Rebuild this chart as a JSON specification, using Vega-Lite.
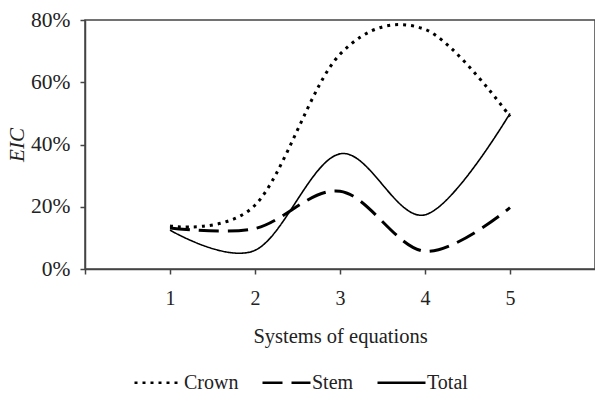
{
  "$schema": "https://vega.github.io/schema/vega-lite/v6.json",
  "autosize": {"type": "none"},
  "width": 510,
  "height": 249,
  "padding": {"left": 85, "top": 20, "right": 0, "bottom": 134},
  "background": "white",
  "config": {
    "view": {"stroke": "#444", "strokeWidth": 1.5},
    "font": "Liberation Serif, DejaVu Serif, serif",
    "axis": {"domainColor": "#444", "domainWidth": 1.5, "tickColor": "#444", "tickWidth": 1.5, "tickSize": 5, "grid": false, "labelFont": "Liberation Serif, DejaVu Serif, serif", "labelFontSize": 20, "labelColor": "#222", "titleFont": "Liberation Serif, DejaVu Serif, serif", "titleFontSize": 20.5, "titleColor": "#222", "titleFontWeight": "normal"},
    "legend": {"labelFont": "Liberation Serif, DejaVu Serif, serif"}
  },
  "data": {
    "values": [
      {"system": 1, "series": "Crown", "eic": 0.138},
      {"system": 2, "series": "Crown", "eic": 0.205},
      {"system": 3, "series": "Crown", "eic": 0.69},
      {"system": 4, "series": "Crown", "eic": 0.77},
      {"system": 5, "series": "Crown", "eic": 0.49},
      {"system": 1, "series": "Stem", "eic": 0.132},
      {"system": 2, "series": "Stem", "eic": 0.13},
      {"system": 3, "series": "Stem", "eic": 0.25},
      {"system": 4, "series": "Stem", "eic": 0.057},
      {"system": 5, "series": "Stem", "eic": 0.197},
      {"system": 1, "series": "Total", "eic": 0.125},
      {"system": 2, "series": "Total", "eic": 0.06},
      {"system": 3, "series": "Total", "eic": 0.37},
      {"system": 4, "series": "Total", "eic": 0.174},
      {"system": 5, "series": "Total", "eic": 0.5}
    ]
  },
  "encoding": {
    "x": {
      "field": "system", "type": "quantitative",
      "scale": {"domain": [0, 6], "nice": false, "zero": false},
      "axis": {"values": [0, 1, 2, 3, 4, 5], "labelExpr": "datum.value == 0 ? '' : datum.label", "labelPadding": 14, "title": "Systems of equations", "titlePadding": 18}
    },
    "y": {
      "field": "eic", "type": "quantitative",
      "scale": {"domain": [0, 0.8], "nice": false},
      "axis": {"values": [0, 0.2, 0.4, 0.6, 0.8], "format": ".0%", "labelPadding": 10, "labelFontSize": 21.5, "title": "EIC", "titleFontStyle": "italic", "titleFontSize": 21, "titlePadding": 3}
    },
    "strokeDash": {
      "field": "series", "type": "nominal",
      "scale": {"domain": ["Crown", "Stem", "Total"], "range": [[3, 5], [20, 9], [1, 0]]},
      "legend": {
        "title": null, "orient": "none", "direction": "horizontal", "columns": 3,
        "legendX": 48, "legendY": 337,
        "symbolType": "stroke", "symbolSize": 2304, "symbolStrokeColor": "black", "symbolStrokeWidth": 2.5,
        "labelFontSize": 20, "labelColor": "#222", "labelOffset": 0, "columnPadding": 18
      }
    }
  },
  "layer": [
    {
      "transform": [{"filter": "datum.series === 'Crown'"}],
      "mark": {"type": "line", "interpolate": "cardinal", "tension": 0, "color": "black", "strokeCap": "butt", "strokeWidth": 3}
    },
    {
      "transform": [{"filter": "datum.series === 'Stem'"}],
      "mark": {"type": "line", "interpolate": "cardinal", "tension": 0, "color": "black", "strokeCap": "butt", "strokeWidth": 3}
    },
    {
      "transform": [{"filter": "datum.series === 'Total'"}],
      "mark": {"type": "line", "interpolate": "cardinal", "tension": 0, "color": "black", "strokeCap": "butt", "strokeWidth": 1.6}
    }
  ]
}
